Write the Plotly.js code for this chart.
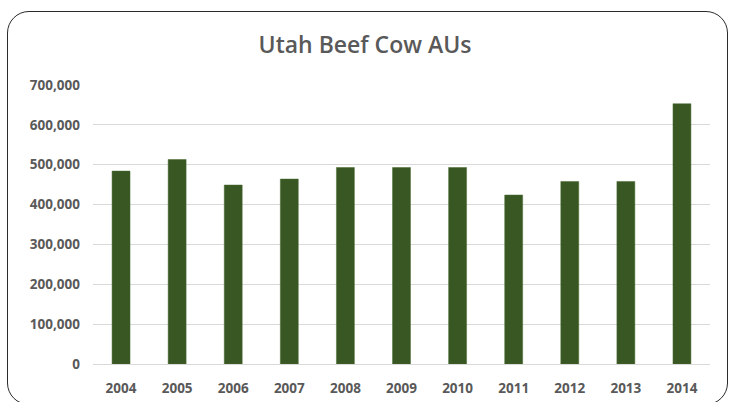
<!DOCTYPE html>
<html><head><meta charset="utf-8">
<script src="https://cdn.plot.ly/plotly-3.0.1.min.js"></script>
<style>
html,body{margin:0;padding:0;background:#fff;}
#wrap{position:relative;width:730px;height:402px;overflow:hidden;}
#chart{position:absolute;left:0;top:0;width:730px;height:402px;}
#frame{position:absolute;left:7px;top:11px;width:719px;height:392px;border:1.6px solid #2b2b2b;border-radius:22px;pointer-events:none;}
</style></head>
<body><div id="wrap"><div id="chart"></div><div id="frame"></div></div>
<script>
const years = ['2004','2005','2006','2007','2008','2009','2010','2011','2012','2013','2014'];
const cowAUs = [484000, 513000, 449000, 464000, 493000, 493000, 493000, 424000, 458000, 458000, 653000];
const yTicks = [0, 100000, 200000, 300000, 400000, 500000, 600000, 700000];
const yTickText = ['0','100,000','200,000','300,000','400,000','500,000','600,000','700,000'];

const tickFont = {family: 'Open Sans, sans-serif', size: 13.5, color: '#595959', weight: 'bold'};
Plotly.newPlot('chart', [{
  type: 'bar', x: years, y: cowAUs,
  marker: {color: '#385723', line: {color: '#4a6b32', width: 0.5}},
  hoverinfo: 'x+y'
}], {
  width: 730, height: 402,
  margin: {l: 93, r: 20, t: 85, b: 38},
  paper_bgcolor: 'rgba(0,0,0,0)', plot_bgcolor: '#fff',
  bargap: 0.68,
  showlegend: false,
  title: {text: 'Utah Beef Cow AUs', x: 0.5, xanchor: 'center', y: 0.888, yanchor: 'middle',
          font: {family: 'Open Sans, sans-serif', size: 23, color: '#595959', weight: 600}},
  xaxis: {type: 'category', tickfont: tickFont, showgrid: false, ticks: '', showline: false,
          ticklabelstandoff: 14, zeroline: false},
  yaxis: {range: [0, 700000], tickvals: yTicks, ticktext: yTickText, tickfont: tickFont,
          gridcolor: '#d9d9d9', gridwidth: 1, ticks: '', showline: false, zeroline: true,
          zerolinecolor: '#d9d9d9', zerolinewidth: 1, ticklabelstandoff: 12}
}, {displayModeBar: false, staticPlot: true});
</script></body></html>
